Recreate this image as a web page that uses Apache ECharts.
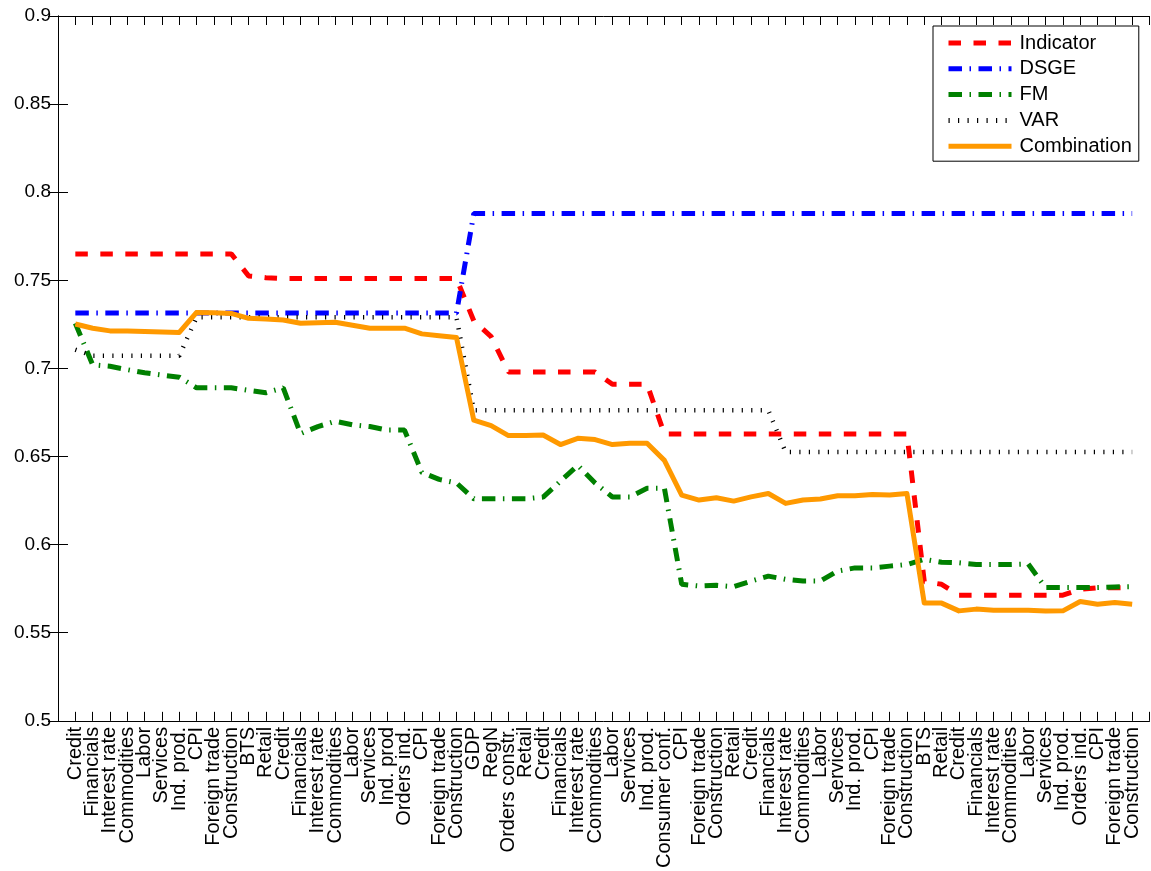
<!DOCTYPE html>
<html>
<head>
<meta charset="utf-8">
<script src="https://cdn.jsdelivr.net/npm/echarts@6/dist/echarts.min.js"></script>
<style>
  html, body { margin: 0; padding: 0; background: #fff; }
  #chart { width: 1151px; height: 871px; }
</style>
</head>
<body>
<div id="chart"></div>
<script>
// Forecast groups, in the order they are added to the combination
const categories = [
  'Credit', 'Financials', 'Interest rate', 'Commodities', 'Labor', 'Services', 'Ind. prod.', 'CPI',
  'Foreign trade', 'Construction', 'BTS', 'Retail', 'Credit', 'Financials', 'Interest rate',
  'Commodities', 'Labor', 'Services', 'Ind. prod', 'Orders ind.', 'CPI', 'Foreign trade',
  'Construction', 'GDP', 'RegN', 'Orders constr.', 'Retail', 'Credit', 'Financials', 'Interest rate',
  'Commodities', 'Labor', 'Services', 'Ind. prod.', 'Consumer conf.', 'CPI', 'Foreign trade',
  'Construction', 'Retail', 'Credit', 'Financials', 'Interest rate', 'Commodities', 'Labor',
  'Services', 'Ind. prod.', 'CPI', 'Foreign trade', 'Construction', 'BTS', 'Retail', 'Credit',
  'Financials', 'Interest rate', 'Commodities', 'Labor', 'Services', 'Ind. prod.', 'Orders ind.',
  'CPI', 'Foreign trade', 'Construction'
];

const indicator = [
  0.765, 0.765, 0.765, 0.765, 0.765, 0.765, 0.765, 0.765, 0.765, 0.765,
  0.7525, 0.7515, 0.751, 0.751, 0.751, 0.751, 0.751, 0.751, 0.751, 0.751,
  0.751, 0.751, 0.751, 0.727, 0.718, 0.698, 0.698, 0.698, 0.698, 0.698,
  0.698, 0.691, 0.691, 0.691, 0.6628, 0.6628, 0.6628, 0.6628, 0.6628, 0.6628,
  0.6628, 0.6628, 0.6628, 0.6628, 0.6628, 0.6628, 0.6628, 0.6628, 0.6628, 0.579,
  0.5775, 0.5713, 0.5713, 0.5713, 0.5713, 0.5713, 0.5713, 0.5713, 0.5746, 0.5755,
  0.5755, 0.5755
];

const dsge = [
  0.7314, 0.7314, 0.7314, 0.7314, 0.7314, 0.7314, 0.7314, 0.7314, 0.7314, 0.7314,
  0.7314, 0.7314, 0.7314, 0.7314, 0.7314, 0.7314, 0.7314, 0.7314, 0.7314, 0.7314,
  0.7314, 0.7314, 0.7314, 0.7879, 0.7879, 0.7879, 0.7879, 0.7879, 0.7879, 0.7879,
  0.7879, 0.7879, 0.7879, 0.7879, 0.7879, 0.7879, 0.7879, 0.7879, 0.7879, 0.7879,
  0.7879, 0.7879, 0.7879, 0.7879, 0.7879, 0.7879, 0.7879, 0.7879, 0.7879, 0.7879,
  0.7879, 0.7879, 0.7879, 0.7879, 0.7879, 0.7879, 0.7879, 0.7879, 0.7879, 0.7879,
  0.7879, 0.7879
];

const fm = [
  0.7256, 0.7021, 0.7012, 0.6993, 0.6975, 0.6962, 0.695, 0.689, 0.689, 0.689,
  0.6875, 0.6862, 0.689, 0.663, 0.667, 0.670, 0.668, 0.667, 0.665, 0.665,
  0.641, 0.637, 0.635, 0.626, 0.626, 0.626, 0.626, 0.627, 0.636, 0.645,
  0.635, 0.627, 0.627, 0.632, 0.632, 0.5775, 0.5765, 0.5769, 0.5761, 0.5793,
  0.5821, 0.5803, 0.5793, 0.5793, 0.585, 0.5868, 0.5868, 0.5878, 0.5887, 0.5917,
  0.590, 0.5897, 0.5887, 0.5887, 0.5887, 0.589, 0.5756, 0.5756, 0.5756, 0.5757,
  0.576, 0.5761
];

const varModel = [
  0.7106, 0.7072, 0.7072, 0.7072, 0.7072, 0.7072, 0.7072, 0.729, 0.729, 0.729,
  0.729, 0.729, 0.729, 0.729, 0.729, 0.729, 0.729, 0.729, 0.729, 0.729,
  0.729, 0.729, 0.729, 0.6762, 0.6762, 0.6762, 0.6762, 0.6762, 0.6762, 0.6762,
  0.6762, 0.6762, 0.6762, 0.6762, 0.6762, 0.6762, 0.6762, 0.6762, 0.6762, 0.6762,
  0.6762, 0.6525, 0.6525, 0.6525, 0.6525, 0.6525, 0.6525, 0.6525, 0.6525, 0.6525,
  0.6525, 0.6525, 0.6525, 0.6525, 0.6525, 0.6525, 0.6525, 0.6525, 0.6525, 0.6525,
  0.6525, 0.6525
];

const combination = [
  0.7252, 0.7228, 0.7213, 0.7212, 0.721, 0.7206, 0.7204, 0.7318, 0.7316, 0.7312,
  0.7284, 0.728, 0.7275, 0.7256, 0.7259, 0.7262, 0.7245, 0.7228, 0.7228, 0.7228,
  0.7196, 0.7185, 0.7175, 0.6706, 0.6675, 0.6619, 0.6619, 0.6622, 0.6568, 0.6603,
  0.6596, 0.6568, 0.6575, 0.6575, 0.6478, 0.6281, 0.6253, 0.6266, 0.6247, 0.6271,
  0.629, 0.6234, 0.6253, 0.6259, 0.6277, 0.6277, 0.6285, 0.6281, 0.629, 0.5668,
  0.5668, 0.5624, 0.5634, 0.5628, 0.5628, 0.5628, 0.5623, 0.5624, 0.5677, 0.5662,
  0.5671, 0.5662
];

const yMin = 0.5, yMax = 0.9, yStep = 0.05;

const FONT = "'Liberation Sans', Arial, Helvetica, sans-serif";
const LINE_W = 5;

// Points sit at positions 1..N on a 0..N+1 axis
const toPoints = arr => arr.map((v, i) => [i + 1, v]);
const xMax = categories.length + 1;

const chart = echarts.init(document.getElementById('chart'), null, { renderer: 'canvas' });

const axisLine = { show: true, lineStyle: { color: '#000', width: 1 } };

const option = {
  animation: false,
  backgroundColor: '#fff',
  grid: { left: 58, right: 1.5, top: 16, bottom: 146.5, containLabel: false },
  xAxis: [
    {
      type: 'value', position: 'bottom', min: 0, max: xMax, interval: 1,
      axisLine: axisLine,
      axisTick: { show: true, inside: true, length: 9, lineStyle: { color: '#000' } },
      splitLine: { show: false },
      axisLabel: {
        show: true, rotate: 90, margin: 6, fontSize: 20, fontFamily: FONT, color: '#000',
        formatter: v => categories[v - 1] || ''
      }
    },
    {
      type: 'value', position: 'top', min: 0, max: xMax, interval: 1,
      axisLine: axisLine,
      axisTick: { show: true, inside: true, length: 9, lineStyle: { color: '#000' } },
      splitLine: { show: false },
      axisLabel: { show: false }
    }
  ],
  yAxis: [
    {
      type: 'value', position: 'left', min: yMin, max: yMax, interval: yStep,
      axisLine: axisLine,
      axisTick: { show: true, inside: true, length: 10, lineStyle: { color: '#000' } },
      splitLine: { show: false },
      axisLabel: { show: true, margin: 7, fontSize: 19, fontFamily: FONT, color: '#000' }
    },
    {
      type: 'value', position: 'right', min: yMin, max: yMax, interval: yStep,
      axisLine: axisLine,
      axisTick: { show: true, inside: true, length: 10, lineStyle: { color: '#000' } },
      splitLine: { show: false },
      axisLabel: { show: false }
    }
  ],
  legend: {
    orient: 'vertical',
    left: 933, top: 26,
    itemWidth: 63, itemHeight: 14, itemGap: 5.8,
    padding: [7, 7, 5, 13],
    borderColor: '#000', borderWidth: 1, backgroundColor: '#fff',
    selectedMode: false,
    textStyle: { fontSize: 20, fontFamily: FONT, color: '#000', lineHeight: 20, padding: [0, 0, 0, 3] },
    // line-only keys: hide the marker symbol
    itemStyle: { color: 'rgba(0,0,0,0)', borderWidth: 0, opacity: 0 },
    lineStyle: { width: LINE_W },
    data: ['Indicator', 'DSGE', 'FM', 'VAR', 'Combination']
  },
  series: [
    {
      name: 'Indicator', type: 'line', data: toPoints(indicator), symbol: 'none',
      lineStyle: { color: '#FF0000', width: LINE_W, type: [12.5, 12.5], cap: 'butt' },
      itemStyle: { color: '#FF0000' }, z: 2
    },
    {
      name: 'DSGE', type: 'line', data: toPoints(dsge), symbol: 'none',
      lineStyle: { color: '#0000FF', width: LINE_W, type: [13.5, 7.5, 1.5, 7.5], cap: 'butt' },
      itemStyle: { color: '#0000FF' }, z: 2
    },
    {
      name: 'FM', type: 'line', data: toPoints(fm), symbol: 'none',
      lineStyle: { color: '#008000', width: LINE_W, type: [13.5, 7.5, 1.5, 7.5], cap: 'butt' },
      itemStyle: { color: '#008000' }, z: 2
    },
    {
      name: 'VAR', type: 'line', data: toPoints(varModel), symbol: 'none',
      lineStyle: { color: '#000000', width: 4.5, type: [1.2, 8.3], cap: 'butt' },
      itemStyle: { color: '#000000' }, z: 2
    },
    {
      name: 'Combination', type: 'line', data: toPoints(combination), symbol: 'none',
      lineStyle: { color: '#FF9900', width: LINE_W, type: 'solid', join: 'round' },
      itemStyle: { color: '#FF9900' }, z: 3
    }
  ]
};

chart.setOption(option);
</script>
</body>
</html>
